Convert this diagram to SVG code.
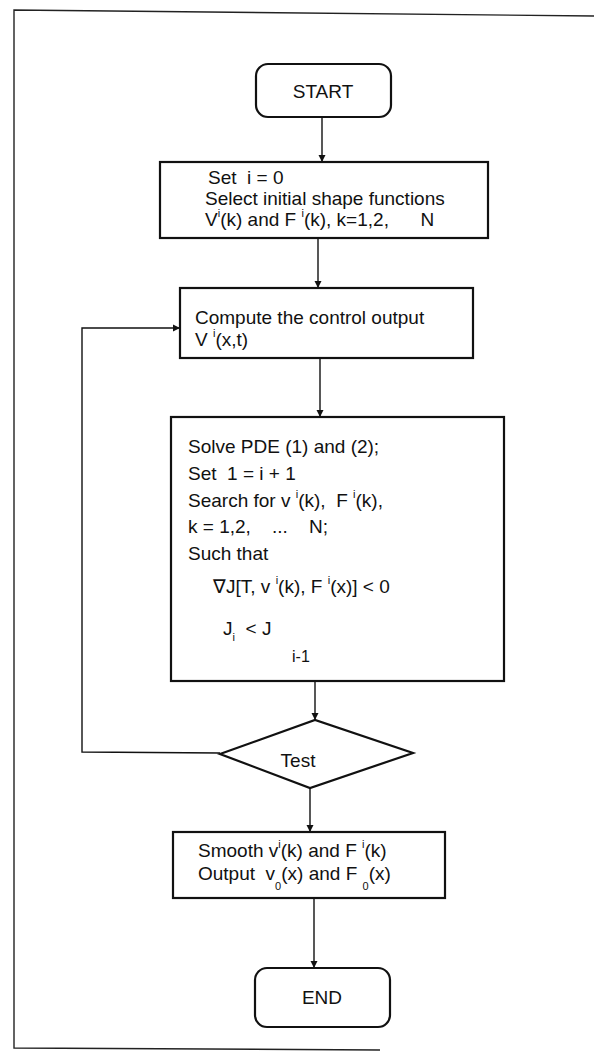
<svg xmlns="http://www.w3.org/2000/svg" width="594" height="1057" viewBox="0 0 594 1057" xml:space="preserve">
<style>
.box{fill:none;stroke:#111;stroke-width:2.2}
.frame{fill:none;stroke:#222;stroke-width:1.4}
.con{fill:none;stroke:#111;stroke-width:1.4}
text{font-family:"Liberation Sans",Arial,sans-serif;font-size:19px;fill:#111;white-space:pre}
.sup{font-size:11px}
.sub2{font-size:16px}
</style>
<defs>
<marker id="ah" viewBox="0 0 10 10" refX="10" refY="5" markerWidth="7" markerHeight="10" markerUnits="userSpaceOnUse" orient="auto">
<path d="M0,0 L10,5 L0,10 Z" fill="#111"/>
</marker>
</defs>
<rect width="594" height="1057" fill="#fff"/>
<g id="frame">
<path class="frame" d="M594,16 L14,10 L14,1048 L380,1050"/>
</g>
<g id="connectors">
<line class="con" x1="322" y1="117" x2="322" y2="162" marker-end="url(#ah)"/>
<line class="con" x1="318" y1="238" x2="318" y2="288" marker-end="url(#ah)"/>
<line class="con" x1="320" y1="358" x2="320" y2="417" marker-end="url(#ah)"/>
<line class="con" x1="315" y1="682" x2="315" y2="720" marker-end="url(#ah)"/>
<line class="con" x1="310" y1="788" x2="310" y2="832" marker-end="url(#ah)"/>
<line class="con" x1="314" y1="898" x2="314" y2="968" marker-end="url(#ah)"/>
<polyline class="con" points="220,753 82,752 82,328 180,328" marker-end="url(#ah)"/>
</g>
<g id="start">
<rect class="box" x="256" y="64" width="135" height="53" rx="12"/>
<text x="323" y="98" text-anchor="middle">START</text>
</g>
<g id="init">
<rect class="box" x="160" y="162" width="328" height="76"/>
<text x="208" y="184">Set  i = 0</text>
<text x="205" y="205">Select initial shape functions</text>
<text x="205" y="226">V<tspan class="sup" dy="-9">i</tspan><tspan dy="9">(k) and F </tspan><tspan class="sup" dy="-9">i</tspan><tspan dy="9">(k), k=1,2,      N</tspan></text>
</g>
<g id="compute">
<rect class="box" x="180" y="288" width="293" height="70"/>
<text x="195" y="324">Compute the control output</text>
<text x="195" y="346">V <tspan class="sup" dy="-9">i</tspan><tspan dy="9">(x,t)</tspan></text>
</g>
<g id="solve">
<rect class="box" x="171" y="417" width="333" height="264"/>
<text x="188" y="453">Solve PDE (1) and (2);</text>
<text x="188" y="480">Set  1 = i + 1</text>
<text x="188" y="507">Search for v <tspan class="sup" dy="-9">i</tspan><tspan dy="9">(k),  F </tspan><tspan class="sup" dy="-9">i</tspan><tspan dy="9">(k),</tspan></text>
<text x="188" y="533">k = 1,2,    ...    N;</text>
<text x="188" y="560">Such that</text>
<text x="213" y="593">∇J[T, v <tspan class="sup" dy="-9">i</tspan><tspan dy="9">(k), F </tspan><tspan class="sup" dy="-9">i</tspan><tspan dy="9">(x)] &lt; 0</tspan></text>
<text x="223" y="635">J<tspan class="sup" dy="6">i</tspan><tspan dy="-6">  &lt; J </tspan></text>
<text class="sub2" x="292" y="662">i-1</text>
</g>
<g id="test">
<polygon class="box" points="220,754 315,720 413,753 310,788"/>
<text x="298" y="767" text-anchor="middle">Test</text>
</g>
<g id="smooth">
<rect class="box" x="173" y="832" width="272" height="66"/>
<text x="198" y="857">Smooth v<tspan class="sup" dy="-9">i</tspan><tspan dy="9">(k) and F </tspan><tspan class="sup" dy="-9">i</tspan><tspan dy="9">(k)</tspan></text>
<text x="198" y="880">Output  v<tspan class="sup" dy="10">0</tspan><tspan dy="-10">(x) and F </tspan><tspan class="sup" dy="10">0</tspan><tspan dy="-10">(x)</tspan></text>
</g>
<g id="end">
<rect class="box" x="255" y="968" width="135" height="59" rx="12"/>
<text x="322" y="1004" text-anchor="middle">END</text>
</g>
</svg>
